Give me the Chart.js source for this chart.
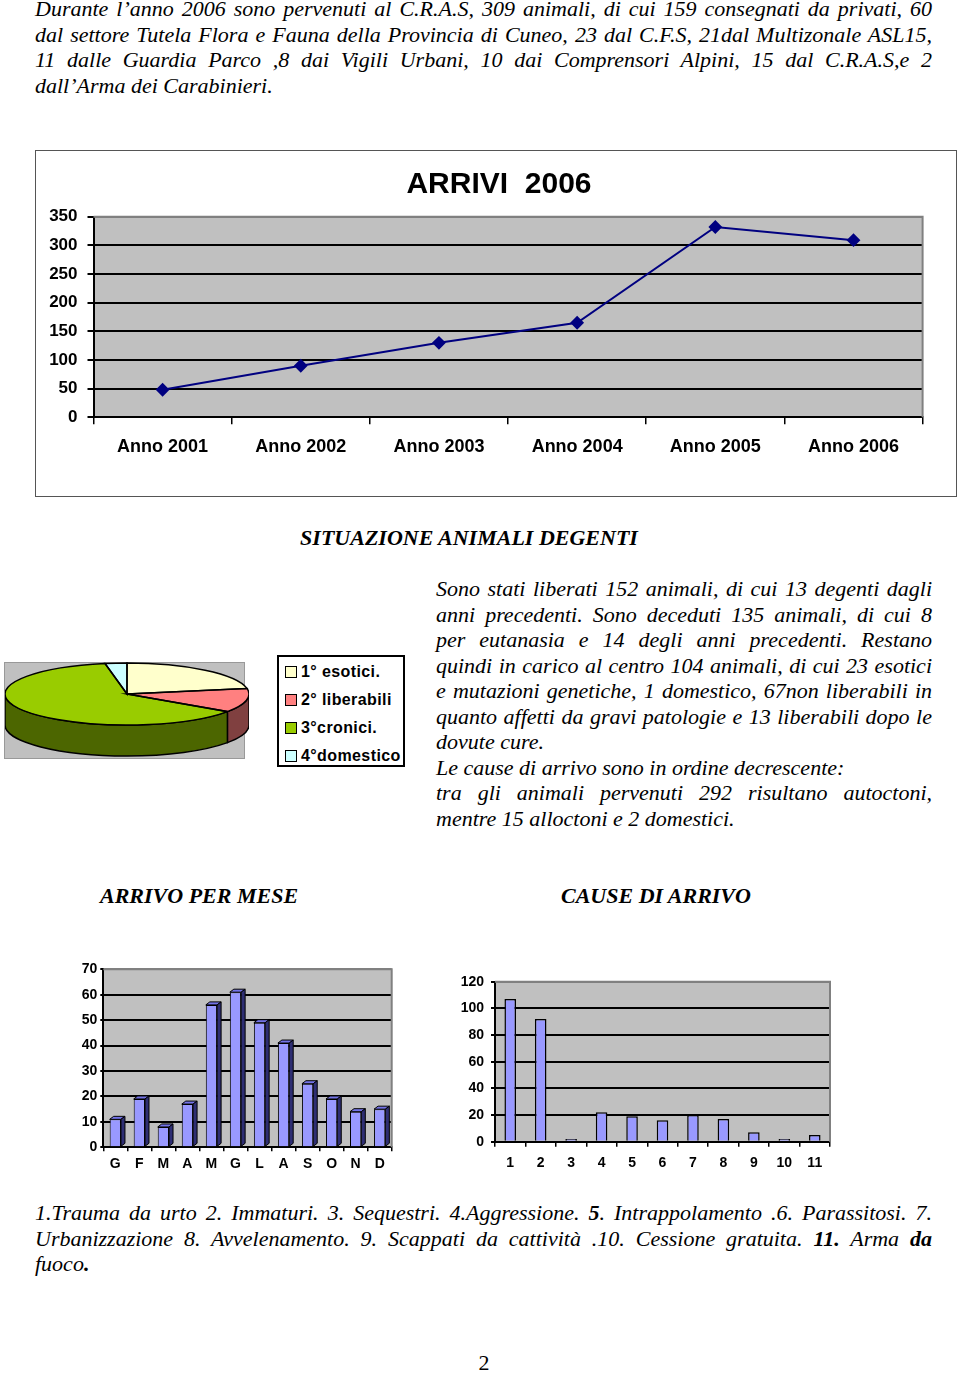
<!DOCTYPE html>
<html lang="it">
<head>
<meta charset="utf-8">
<title>C.R.A.S. - Arrivi 2006</title>
<script src="https://cdn.jsdelivr.net/npm/chart.js@4.4.1/dist/chart.umd.min.js"></script>
<style>
    body { margin: 0; background: #fff; }
    #page { position: relative; width: 960px; height: 1373px; overflow: hidden; color: #000;
            font-family: 'Liberation Serif', 'Times New Roman', serif; }
    .abs { position: absolute; }
    .txt { font-size: 22px; font-style: italic; line-height: 25.5px; }
    .txt div { text-align: justify; text-align-last: justify; }
    .txt div.last { text-align-last: left; }
    .head { font-size: 22px; font-weight: bold; font-style: italic; line-height: 26px; white-space: nowrap; }
    canvas { position: absolute; }
    #lineBox { left: 35px; top: 150px; width: 922px; height: 347px; box-sizing: border-box; border: 1px solid #555; }
    #lineTitle { left: 299px; top: 165px; width: 400px; text-align: center; white-space: pre;
                 font-family: 'Liberation Sans', Arial, sans-serif; font-weight: bold; font-size: 30px; line-height: 36px; }
    #pieBox { left: 4px; top: 662px; width: 241px; height: 97px; box-sizing: border-box;
              background: #c0c0c0; border: 1px solid #999; }
    #pieLegend { left: 277px; top: 655px; width: 128px; height: 112px; box-sizing: border-box;
                 border: 2px solid #000; background: #fff; padding: 2px 0 0 6px;
                 font-family: 'Liberation Sans', Arial, sans-serif; font-weight: bold; font-size: 16px; letter-spacing: 0.4px; }
    #pieLegend .item { height: 28px; line-height: 26px; white-space: nowrap; }
    #pieLegend .sw { display: inline-block; width: 10px; height: 10px; border: 1px solid #000; margin-right: 4px; vertical-align: -1px; }
</style>
</head>
<body>
<div id="page">
    <div class="abs txt" style="left:35px; top:-4px; width:897px;">
        <div>Durante l’anno 2006 sono pervenuti al C.R.A.S, 309 animali, di cui 159 consegnati da privati, 60</div>
        <div>dal settore Tutela Flora e Fauna della Provincia di Cuneo, 23 dal C.F.S, 21dal Multizonale ASL15,</div>
        <div>11 dalle Guardia Parco ,8 dai Vigili Urbani, 10 dai Comprensori Alpini, 15 dal C.R.A.S,e 2</div>
        <div class="last">dall’Arma dei Carabinieri.</div>
    </div>

    <div id="lineBox" class="abs"></div>
    <canvas id="arriviChart" width="922" height="347" style="left:35px; top:150px;"></canvas>
    <div id="lineTitle" class="abs">ARRIVI  2006</div>

    <div class="abs head" style="left:0; top:525px; width:938px; text-align:center;">SITUAZIONE ANIMALI DEGENTI</div>

    <div id="pieBox" class="abs"></div>
    <canvas id="degentiChart" width="244" height="244" style="left:5px; top:572px;"></canvas>
    <div id="pieLegend" class="abs"></div>

    <div class="abs txt" style="left:436px; top:576px; width:496px;">
        <div>Sono stati liberati 152 animali, di cui 13 degenti dagli</div>
        <div>anni precedenti. Sono deceduti 135 animali, di cui 8</div>
        <div>per eutanasia e 14 degli anni precedenti. Restano</div>
        <div>quindi in carico al centro 104 animali, di cui 23 esotici</div>
        <div>e mutazioni genetiche, 1 domestico, 67non liberabili in</div>
        <div>quanto affetti da gravi patologie e 13 liberabili dopo le</div>
        <div class="last">dovute cure.</div>
        <div class="last">Le cause di arrivo sono in ordine decrescente:</div>
        <div>tra gli animali pervenuti 292 risultano autoctoni,</div>
        <div class="last">mentre 15 alloctoni e 2 domestici.</div>
    </div>

    <div class="abs head" style="left:100px; top:883px;">ARRIVO PER MESE</div>
    <div class="abs head" style="left:561px; top:883px;">CAUSE DI ARRIVO</div>

    <canvas id="meseChart" width="340" height="225" style="left:70px; top:955px;"></canvas>
    <canvas id="causeChart" width="410" height="215" style="left:440px; top:965px;"></canvas>

    <div class="abs txt" style="left:35px; top:1200px; width:897px;">
        <div>1.Trauma da urto 2. Immaturi. 3. Sequestri. 4.Aggressione. <b>5</b>. Intrappolamento .6. Parassitosi. 7.</div>
        <div>Urbanizzazione 8. Avvelenamento. 9. Scappati da cattività .10. Cessione gratuita. <b>11.</b> Arma <b>da</b></div>
        <div class="last">fuoco<b>.</b></div>
    </div>

    <div class="abs" style="left:0; top:1350px; width:968px; text-align:center; font-size:22px;">2</div>
</div>

<script>
// Data
const years = ['Anno 2001', 'Anno 2002', 'Anno 2003', 'Anno 2004', 'Anno 2005', 'Anno 2006'];
const arrivals = [48, 90, 130, 165, 332, 309];
const arrivalsMax = 350;
const arrivalsStep = 50;

const patientLabels = ['1° esotici.', '2° liberabili', '3°cronici.', '4°domestico'];
const patientCounts = [23, 13, 65, 3];

const months = ['G', 'F', 'M', 'A', 'M', 'G', 'L', 'A', 'S', 'O', 'N', 'D'];
const monthArrivals = [11, 19, 8, 17, 56, 61, 49, 41, 25, 19, 14, 15];
const monthMax = 70;
const monthStep = 10;

const causes = ['1', '2', '3', '4', '5', '6', '7', '8', '9', '10', '11'];
const causeArrivals = [107, 92, 2, 22, 19, 16, 20, 17, 7, 2, 5];
const causeMax = 120;
const causeStep = 20;

// Styles
const SANS = "'Liberation Sans', Arial, sans-serif";
const pieColors = ['#FFFFCC', '#FF8080', '#99CC00', '#CCFFFF'];
const pieSideColors = ['#8C8C66', '#804040', '#4C6600', '#668080'];

// gray plot area + gray top/right frame, like the old Excel charts
const plotArea = {
    id: 'plotArea',
    beforeDraw(chart) {
        const { ctx, chartArea: a } = chart;
        ctx.save();
        ctx.fillStyle = '#c0c0c0';
        ctx.fillRect(a.left, a.top, a.width, a.height);
        ctx.restore();
    },
    afterDraw(chart) {
        const { ctx, chartArea: a } = chart;
        ctx.save();
        ctx.strokeStyle = '#808080';
        ctx.lineWidth = 2;
        ctx.beginPath();
        ctx.moveTo(a.left, a.top);
        ctx.lineTo(a.right, a.top);
        ctx.lineTo(a.right, a.bottom);
        ctx.stroke();
        ctx.restore();
    }
};

function valueScale(max, step, fontSize, pad, tickLen, width) {
    return {
        min: 0,
        max: max,
        ticks: { stepSize: step, color: '#000', padding: pad, font: { family: SANS, size: fontSize, weight: 'bold' } },
        grid: {
            color: c => (c.tick && c.tick.value === max) ? '#808080' : '#000',
            tickColor: '#000',
            lineWidth: 2,
            tickLength: tickLen
        },
        border: { color: '#000', width: 2 },
        afterFit(s) { s.width = width; }
    };
}

function categoryScale(fontSize, pad, tickLen, height) {
    return {
        offset: true,
        ticks: { color: '#000', padding: pad, maxRotation: 0, autoSkip: false, font: { family: SANS, size: fontSize, weight: 'bold' } },
        grid: { offset: true, drawOnChartArea: false, color: '#000', lineWidth: 1.5, tickLength: tickLen },
        border: { color: '#000', width: 2 },
        afterFit(s) { s.height = height; }
    };
}

const baseOptions = {
    responsive: false,
    animation: false,
    devicePixelRatio: 1,
    events: []
};

// Line chart: ARRIVI 2006 (title is the html div above the canvas)
new Chart(document.getElementById('arriviChart'), {
    type: 'line',
    data: {
        labels: years,
        datasets: [{
            data: arrivals,
            borderColor: '#000080',
            backgroundColor: '#000080',
            borderWidth: 2,
            pointStyle: 'rectRot',
            pointRadius: 5.5,
            tension: 0,
            clip: false
        }]
    },
    options: {
        ...baseOptions,
        layout: { padding: { top: 66.7, right: 34.4, bottom: 0, left: 0 } },
        plugins: {
            legend: { display: false },
            tooltip: { enabled: false }
        },
        scales: {
            x: categoryScale(18, 12, 7, 79.7),
            y: valueScale(arrivalsMax, arrivalsStep, 17, 10, 6, 58.5)
        }
    },
    plugins: [plotArea]
});

// 3D pie: SITUAZIONE ANIMALI DEGENTI
const pie3d = {
    id: 'pie3d',
    beforeDatasetsDraw(chart, args, opts) {
        const ctx = chart.ctx;
        const arcs = chart.getDatasetMeta(0).data;
        const { x, y, outerRadius: r } = arcs[0].getProps(['x', 'y', 'outerRadius'], true);
        const ry = r * opts.tilt;
        ctx.save();
        ctx.lineWidth = 1.5;
        ctx.strokeStyle = '#000';
        arcs.forEach((arc, i) => {
            const { startAngle, endAngle } = arc.getProps(['startAngle', 'endAngle'], true);
            const a1 = Math.max(startAngle, 0);
            const a2 = Math.min(endAngle, Math.PI);
            if (a2 <= a1) return;
            ctx.beginPath();
            ctx.ellipse(x, y, r, ry, 0, a1, a2);
            ctx.ellipse(x, y + opts.depth, r, ry, 0, a2, a1, true);
            ctx.closePath();
            ctx.fillStyle = pieSideColors[i];
            ctx.fill();
            ctx.stroke();
        });
        ctx.restore();
        // squash the top face
        ctx.save();
        ctx.translate(x, y);
        ctx.scale(1, opts.tilt);
        ctx.translate(-x, -y);
    },
    afterDatasetsDraw(chart, args, opts) {
        const ctx = chart.ctx;
        ctx.restore();
        const arcs = chart.getDatasetMeta(0).data;
        const { x, y, outerRadius: r } = arcs[0].getProps(['x', 'y', 'outerRadius'], true);
        const ry = r * opts.tilt;
        ctx.save();
        ctx.lineWidth = 1.5;
        ctx.strokeStyle = '#000';
        arcs.forEach(arc => {
            const { startAngle, endAngle } = arc.getProps(['startAngle', 'endAngle'], true);
            ctx.beginPath();
            ctx.moveTo(x, y);
            ctx.ellipse(x, y, r, ry, 0, startAngle, endAngle);
            ctx.closePath();
            ctx.stroke();
        });
        ctx.restore();
    }
};

new Chart(document.getElementById('degentiChart'), {
    type: 'pie',
    data: {
        labels: patientLabels,
        datasets: [{
            data: patientCounts,
            backgroundColor: pieColors,
            borderWidth: 0,
            clip: false
        }]
    },
    options: {
        ...baseOptions,
        layout: { padding: 0 },
        plugins: {
            legend: { display: false },
            tooltip: { enabled: false },
            pie3d: { tilt: 0.254, depth: 31 }
        }
    },
    plugins: [pie3d]
});

// legend box next to the pie
const legendBox = document.getElementById('pieLegend');
patientLabels.forEach((label, i) => {
    const item = document.createElement('div');
    item.className = 'item';
    const sw = document.createElement('span');
    sw.className = 'sw';
    sw.style.background = pieColors[i];
    item.appendChild(sw);
    item.appendChild(document.createTextNode(label));
    legendBox.appendChild(item);
});

// 3D column look for the month chart
const columns3d = {
    id: 'columns3d',
    afterDatasetsDraw(chart, args, opts) {
        const ctx = chart.ctx;
        const dx = opts.dx, dy = opts.dy;
        ctx.save();
        ctx.strokeStyle = '#000';
        ctx.lineWidth = 1;
        chart.getDatasetMeta(0).data.forEach(bar => {
            const { x, y, base, width } = bar.getProps(['x', 'y', 'base', 'width'], true);
            const l = x - width / 2, r = x + width / 2;
            // top face
            ctx.beginPath();
            ctx.moveTo(l, y);
            ctx.lineTo(l + dx, y - dy);
            ctx.lineTo(r + dx, y - dy);
            ctx.lineTo(r, y);
            ctx.closePath();
            ctx.fillStyle = '#7373E6';
            ctx.fill();
            ctx.stroke();
            // side face
            ctx.beginPath();
            ctx.moveTo(r, y);
            ctx.lineTo(r + dx, y - dy);
            ctx.lineTo(r + dx, base - dy);
            ctx.lineTo(r, base);
            ctx.closePath();
            ctx.fillStyle = '#2E2E73';
            ctx.fill();
            ctx.stroke();
        });
        ctx.restore();
    }
};

new Chart(document.getElementById('meseChart'), {
    type: 'bar',
    data: {
        labels: months,
        datasets: [{
            data: monthArrivals,
            backgroundColor: '#9999FF',
            borderColor: '#000',
            borderWidth: 1,
            categoryPercentage: 1,
            barPercentage: 0.47
        }]
    },
    options: {
        ...baseOptions,
        layout: { padding: { top: 14.3, right: 18.3, bottom: 0, left: 0 } },
        plugins: {
            legend: { display: false },
            tooltip: { enabled: false },
            columns3d: { dx: 4, dy: 3 }
        },
        scales: {
            x: categoryScale(14, 4, 4, 32.7),
            y: valueScale(monthMax, monthStep, 14, 3, 3, 33.3)
        }
    },
    plugins: [plotArea, columns3d]
});

new Chart(document.getElementById('causeChart'), {
    type: 'bar',
    data: {
        labels: causes,
        datasets: [{
            data: causeArrivals,
            backgroundColor: '#9999FF',
            borderColor: '#000',
            borderWidth: 1.5,
            categoryPercentage: 1,
            barPercentage: 0.38
        }]
    },
    options: {
        ...baseOptions,
        layout: { padding: { top: 16.7, right: 20, bottom: 0, left: 0 } },
        plugins: {
            legend: { display: false },
            tooltip: { enabled: false }
        },
        scales: {
            x: categoryScale(14, 8, 5, 38.3),
            y: valueScale(causeMax, causeStep, 14, 7, 4, 55)
        }
    },
    plugins: [plotArea]
});
</script>
</body>
</html>
